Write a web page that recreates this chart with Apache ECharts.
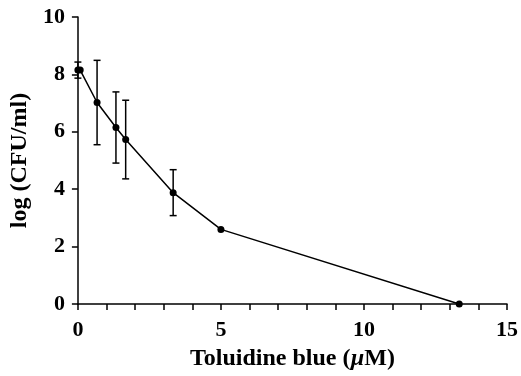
<!DOCTYPE html>
<html>
<head>
<meta charset="utf-8">
<script src="https://cdn.jsdelivr.net/npm/echarts@6/dist/echarts.min.js"></script>
<style>
  html, body { margin: 0; padding: 0; background: #fff; }
  #chart { width: 521px; height: 376px; }
</style>
</head>
<body>
<div id="chart"></div>
<script>
// Toluidine blue concentration (µM) vs surviving bacteria, log(CFU/ml)
const conc = [0, 0.08, 0.67, 1.33, 1.67, 3.33, 5, 13.33];
const logCfu = [8.15, 8.15, 7.02, 6.15, 5.73, 3.88, 2.6, 0];
// +/- error (null = no bar drawn)
const errs = [0.28, null, 1.47, 1.24, 1.37, 0.8, null, null];

const xTicks = [0, 5, 10, 15];
const yTicks = [0, 2, 4, 6, 8, 10];

const FONT = '"Liberation Serif", "Times New Roman", serif';
const INK = '#000';

const chart = echarts.init(document.getElementById('chart'), null, { renderer: 'canvas' });

const lineData = conc.map((x, i) => [x, logCfu[i]]);
const errData = conc
  .map((x, i) => (errs[i] == null ? null : [x, logCfu[i] - errs[i], logCfu[i] + errs[i]]))
  .filter(Boolean);

const axisCommon = {
  axisLine: { show: true, onZero: false, lineStyle: { color: INK, width: 1.5 } },
  axisTick: { show: true, inside: false, length: 6, lineStyle: { color: INK, width: 1.5 } },
  splitLine: { show: false },
  axisLabel: { color: INK, fontFamily: FONT, fontWeight: 'bold', fontSize: 22 },
};

chart.setOption({
  animation: false,
  grid: { left: 77, right: 11, top: 17, bottom: 70, containLabel: false },
  xAxis: {
    type: 'value',
    min: xTicks[0], max: xTicks[xTicks.length - 1], interval: 5,
    ...axisCommon,
    axisLabel: { ...axisCommon.axisLabel, margin: 15 },
    minorTick: { show: true, splitNumber: 5, length: 6, lineStyle: { color: INK, width: 1.5 } },
    name: '{b|Toluidine blue (}{i|µ}{b|M)}',
    nameLocation: 'middle',
    nameGap: 43,
    nameTextStyle: {
      rich: {
        b: { fontFamily: FONT, fontWeight: 'bold', fontSize: 24, color: INK },
        i: { fontFamily: FONT, fontWeight: 'bold', fontStyle: 'italic', fontSize: 24, color: INK },
      },
    },
  },
  yAxis: {
    type: 'value',
    min: yTicks[0], max: yTicks[yTicks.length - 1], interval: 2,
    ...axisCommon,
    axisLabel: { ...axisCommon.axisLabel, margin: 13 },
    name: 'log (CFU/ml)',
    nameLocation: 'middle',
    nameGap: 43,
    nameTextStyle: { fontFamily: FONT, fontWeight: 'bold', fontSize: 24, color: INK },
  },
  series: [
    {
      type: 'custom',
      z: 3,
      renderItem: (params, api) => {
        const x = api.value(0);
        const lo = api.coord([x, api.value(1)]);
        const hi = api.coord([x, api.value(2)]);
        const cap = 3.5;
        const style = { stroke: INK, lineWidth: 1.5 };
        return {
          type: 'group',
          children: [
            { type: 'line', shape: { x1: lo[0], y1: lo[1], x2: hi[0], y2: hi[1] }, style },
            { type: 'line', shape: { x1: hi[0] - cap, y1: hi[1], x2: hi[0] + cap, y2: hi[1] }, style },
            { type: 'line', shape: { x1: lo[0] - cap, y1: lo[1], x2: lo[0] + cap, y2: lo[1] }, style },
          ],
        };
      },
      encode: { x: 0, y: [1, 2] },
      data: errData,
    },
    {
      type: 'line',
      z: 4,
      data: lineData,
      symbol: 'circle',
      symbolSize: 7,
      showSymbol: true,
      lineStyle: { color: INK, width: 1.5 },
      itemStyle: { color: INK },
    },
  ],
});
</script>
</body>
</html>
